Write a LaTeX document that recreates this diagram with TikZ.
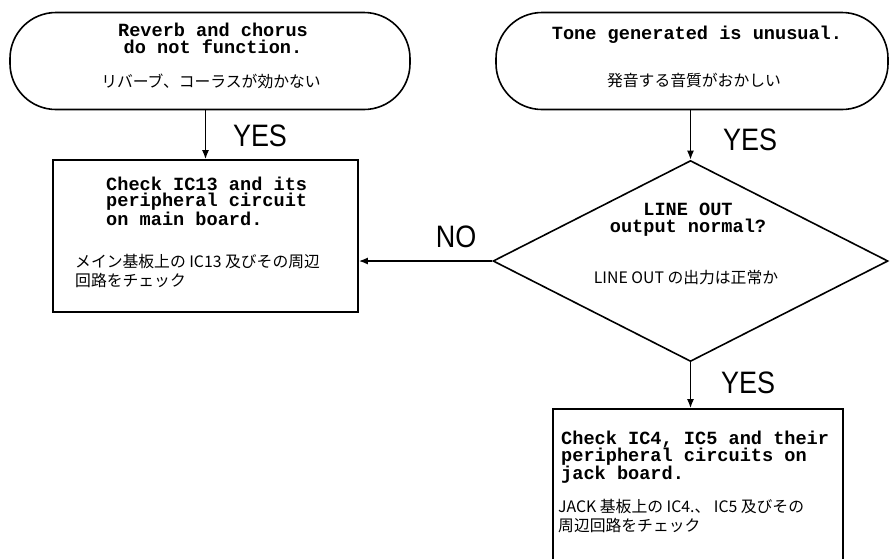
\documentclass[tikz,border=0pt]{standalone}
\usepackage{fontspec}
\setmainfont{Liberation Sans}
\newfontfamily\monof{Liberation Mono}
\newfontfamily\jpf{Noto Sans CJK JP}
\usetikzlibrary{shapes.geometric,arrows.meta}
\tikzset{
  shapeline/.style={draw, line width=1.6pt, inner sep=0pt},
  terminal/.style={shapeline, rectangle, rounded corners=46pt},
  procbox/.style={shapeline, rectangle},
  decision/.style={shapeline, diamond},
  entext/.style={inner sep=0pt, font=\monof\bfseries\fontsize{18.6}{16.8}\selectfont},
  jptext/.style={inner sep=0pt, align=left, font=\jpf\fontsize{15.8}{18.5}\selectfont},
  lbl/.style={inner sep=0pt, font=\fontsize{31}{31}\selectfont, xscale=0.87, transform shape},
  flow/.style={line width=1.6pt, -{Latex[length=9pt,width=7pt]}}
}
\begin{document}
\begin{tikzpicture}[x=1pt,y=-1pt]
\useasboundingbox (0,0) rectangle (890,558);
\clip (0,0) rectangle (890,558);
% shapes
\node[terminal, minimum width=400pt, minimum height=97pt] (tl) at (210,61) {};
\node[terminal, minimum width=392pt, minimum height=97pt] (tr) at (692,61) {};
\node[procbox, minimum width=305pt, minimum height=152pt] (lb) at (205.5,236) {};
\node[decision, minimum width=395pt, minimum height=201pt] (dia) at (690.5,261) {};
\node[procbox, minimum width=290pt, minimum height=220pt] (bb) at (698,519) {};
% texts
\node[entext, align=center] (tlE) at (213,38) {Reverb and chorus\\do not function.};
\node[jptext] (tlJ) at (211,81) {リバーブ、コーラスが効かない};
\node[entext, align=center] (trE) at (697,35) {Tone generated is unusual.};
\node[jptext] (trJ) at (694,80) {発音する音質がおかしい};
\node[entext, align=left, anchor=west] (lbE) at (106,201) {Check IC13 and its\\peripheral circuit\\on main board.};
\node[jptext, anchor=west] (lbJ) at (75,271) {メイン基板上の IC13 及びその周辺\\回路をチェック};
\node[entext, align=center] (diaE) at (688,220) {LINE OUT\\output normal?};
\node[jptext] (diaJ) at (686,278) {LINE OUT の出力は正常か};
\node[entext, align=left, anchor=west] (bbE) at (561,457) {Check IC4, IC5 and their\\peripheral circuits on\\jack board.};
\node[jptext, anchor=west] (bbJ) at (558,516) {JACK 基板上の IC4.、 IC5 及びその\\周辺回路をチェック};
% labels
\node[lbl] (y1) at (260,136) {YES};
\node[lbl] (y2) at (750,140) {YES};
\node[lbl] (y3) at (748,383) {YES};
\node[lbl] (n1) at (456,237) {NO};
% connectors
\draw[flow] (lb.north |- tl.south) -- (lb.north);
\draw[flow] (dia.north |- tr.south) -- (dia.north);
\draw[flow] (dia.west) -- (dia.west -| lb.east);
\draw[flow] (dia.south) -- (dia.south |- bb.north);
\end{tikzpicture}
\end{document}
